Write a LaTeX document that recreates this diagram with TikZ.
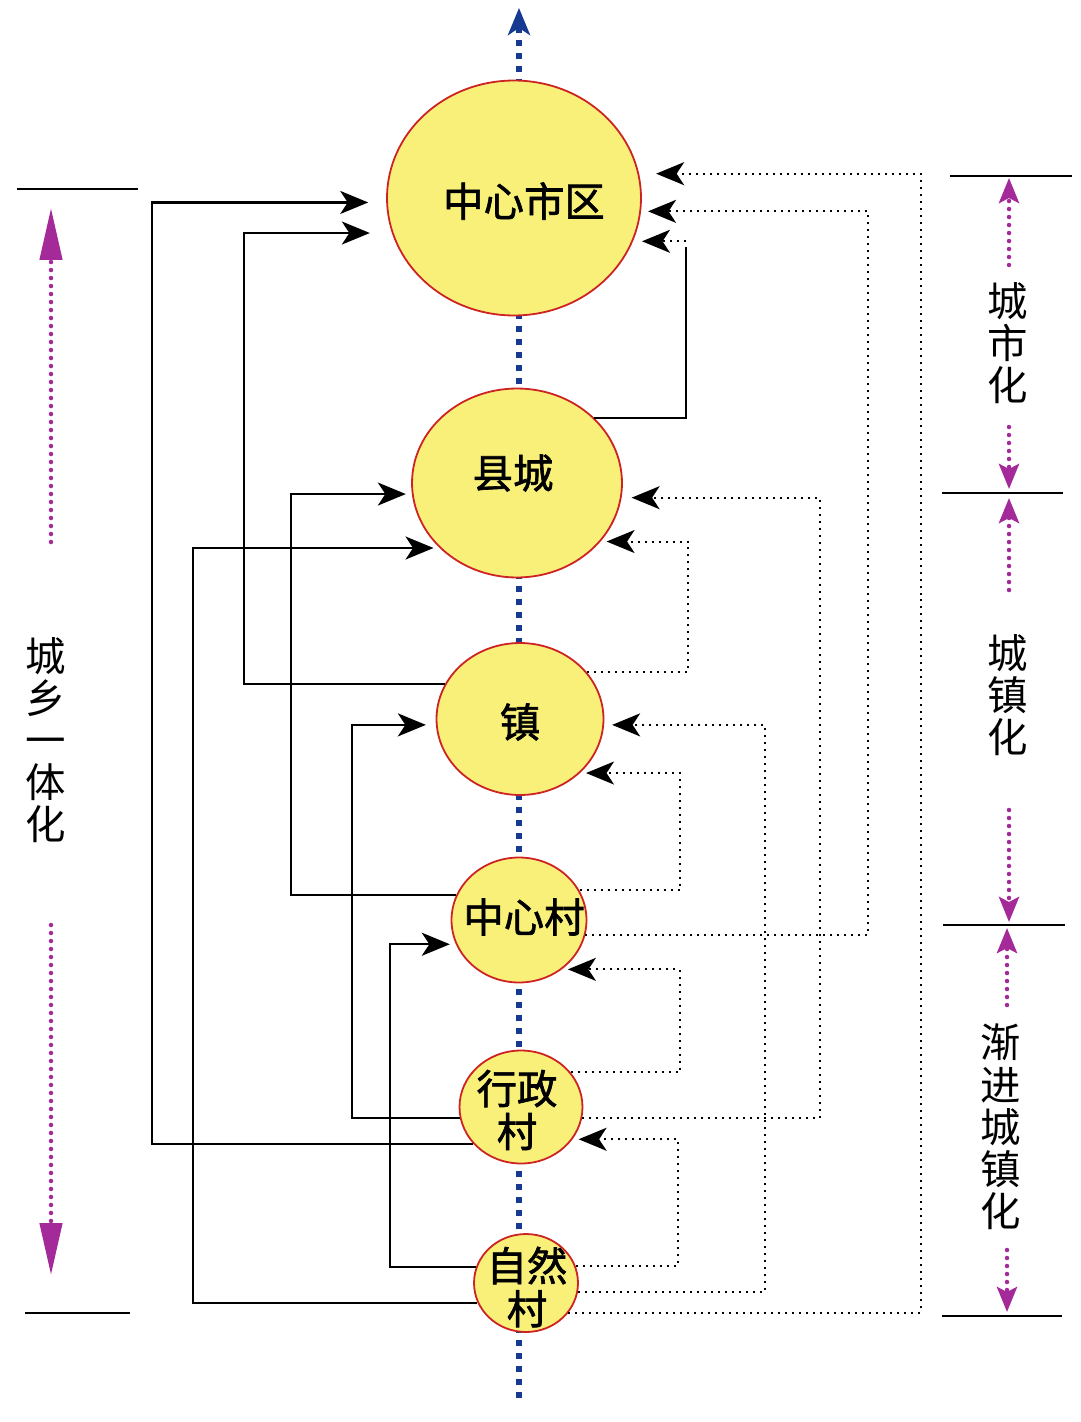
\documentclass[tikz,border=0pt]{standalone}
\usepackage{fontspec}
\newfontfamily\cjk{Noto Sans CJK SC}
\newfontfamily\cjkheavy[FakeBold=1.6]{Noto Sans CJK SC}
\usepackage{xcolor}
\usetikzlibrary{arrows.meta,shapes.geometric}
\definecolor{townfill}{RGB}{249,240,122}
\definecolor{townline}{RGB}{205,35,35}
\definecolor{axisblue}{RGB}{22,58,145}
\definecolor{trendpink}{RGB}{163,42,152}

\begin{document}
\begin{tikzpicture}[x=0.02cm, y=-0.02cm,
		town/.style={ellipse, draw=townline, fill=townfill, line width=0.036cm, inner sep=0pt},
		townname/.style={inner sep=0pt, align=center, font=\cjkheavy\fontsize{23}{24.5}\selectfont},
		sidename/.style={inner sep=0pt, align=center, font=\cjk\fontsize{23}{24}\selectfont},
		link/.style={line width=0.046cm, -{Stealth[length=0.56cm,width=0.46cm,inset=0.15cm]}, shorten >=0.12cm},
		dlink/.style={link, line width=0.04cm, dash pattern=on 0.04cm off 0.1cm},
		bar/.style={line width=0.04cm},
		trend/.style={draw=trendpink, line width=0.09cm, line cap=round, dash pattern=on 0pt off 0.16cm},
		bigtip/.style={-{Triangle[length=1.04cm,width=0.44cm]}},
		smalltip/.style={-{Stealth[length=0.5cm,width=0.4cm,inset=0.1cm]}}]
		\useasboundingbox (0,0) rectangle (1080,1422);
		% axis
		\draw[axisblue, line width=0.12cm, dash pattern=on 0.12cm off 0.14cm,
			-{Stealth[length=0.54cm,width=0.44cm,inset=0.14cm]}] (519,1398) -- (519,8);
		% settlements
		\node[town, minimum width=5.08cm, minimum height=4.7cm] (zx) at (514,198) {};
		\node[town, minimum width=4.2cm, minimum height=3.78cm] (xc) at (517,483) {};
		\node[town, minimum width=3.34cm, minimum height=3.04cm] (zh) at (520,719) {};
		\node[town, minimum width=2.7cm, minimum height=2.5cm] (zxc) at (519,920) {};
		\node[town, minimum width=2.46cm, minimum height=2.26cm] (xzc) at (521,1107) {};
		\node[town, minimum width=2.08cm, minimum height=1.96cm] (zrc) at (526,1283) {};
		\node[townname] (zxt) at (524,201) {中心市区};
		\node[townname] (xct) at (513,473) {县城};
		\node[townname] (zht) at (520,722) {镇};
		\node[townname] (zxct) at (524,917) {中心村};
		\node[townname] (xzct) at (517,1110) {行政\\村};
		\node[townname] (zrct) at (527,1287) {自然\\村};
		% left, solid
		\draw[link, shorten >=0.36cm] (xzc.218) -- (xzc.218 -| 152,0) |- (zx.182);
		\draw[link, shorten >=0.44cm] (zh.155) -- (zh.155 -| 244,0) |- (zx.196);
		\draw[link] (zxc.158) -- (zxc.158 -| 291,0) |- (xc.186);
		\draw[link] (zrc.202) -- (zrc.202 -| 193,0) |- (xc.220);
		\draw[link, shorten >=0.2cm] (xzc.190) -- (xzc.190 -| 352,0) |- (zh.184);
		\draw[link] (zrc.162) -- (zrc.162 -| 390,0) |- (zxc.201);
		% right, dotted
		\coordinate (turn) at (686,0 |- zx.340);
		\draw[link, -] (xc.40) -- (xc.40 -| 686,0) -- (turn);
		\draw[dlink, shorten >=0.18cm] (turn) -- (zx.340);
		\draw[dlink, shorten >=0.14cm] (zxc.347) -- (zxc.347 -| 868,0) |- (zx.354);
		\draw[dlink, shorten >=0.34cm] (zrc.325) -- (zrc.325 -| 921,0) |- (zx.11);
		\draw[dlink, shorten >=0.2cm] (xzc.350) -- (xzc.350 -| 820,0) |- (xc.352);
		\draw[dlink] (zh.35) -- (zh.35 -| 688,0) |- (xc.325);
		\draw[dlink, shorten >=0.16cm] (zrc.350) -- (zrc.350 -| 765,0) |- (zh.356);
		\draw[dlink] (zxc.26) -- (zxc.26 -| 680,0) |- (zh.318);
		\draw[dlink] (xzc.35) -- (xzc.35 -| 680,0) |- (zxc.311);
		\draw[dlink] (zrc.19) -- (zrc.19 -| 678,0) |- (xzc.328);
		% stages
		\draw[bar] (17,189) -- (138,189);
		\draw[bar] (25,1313) -- (130,1313);
		\draw[bar] (950,176) -- (1072,176);
		\draw[bar] (942,493) -- (1063,493);
		\draw[bar] (943,925) -- (1065,925);
		\draw[bar] (942,1316) -- (1062,1316);
		\draw[trend, bigtip] (51,542) -- (51,208);
		\draw[trend, bigtip] (51,925) -- (51,1275);
		\draw[trend, smalltip] (1009,265) -- (1009,178);
		\draw[trend, smalltip] (1009,427) -- (1009,489);
		\draw[trend, smalltip] (1009,590) -- (1009,498);
		\draw[trend, smalltip] (1009,810) -- (1009,922);
		\draw[trend, smalltip] (1007,1005) -- (1007,928);
		\draw[trend, smalltip] (1007,1250) -- (1007,1312);
		\node[sidename] (cxyth) at (46,740) {城\\乡\\一\\体\\化};
		\node[sidename] (csh) at (1008,343) {城\\市\\化};
		\node[sidename] (czh) at (1008,695) {城\\镇\\化};
		\node[sidename] (jjczh) at (1001,1127) {渐\\进\\城\\镇\\化};
	\end{tikzpicture}
\end{document}
